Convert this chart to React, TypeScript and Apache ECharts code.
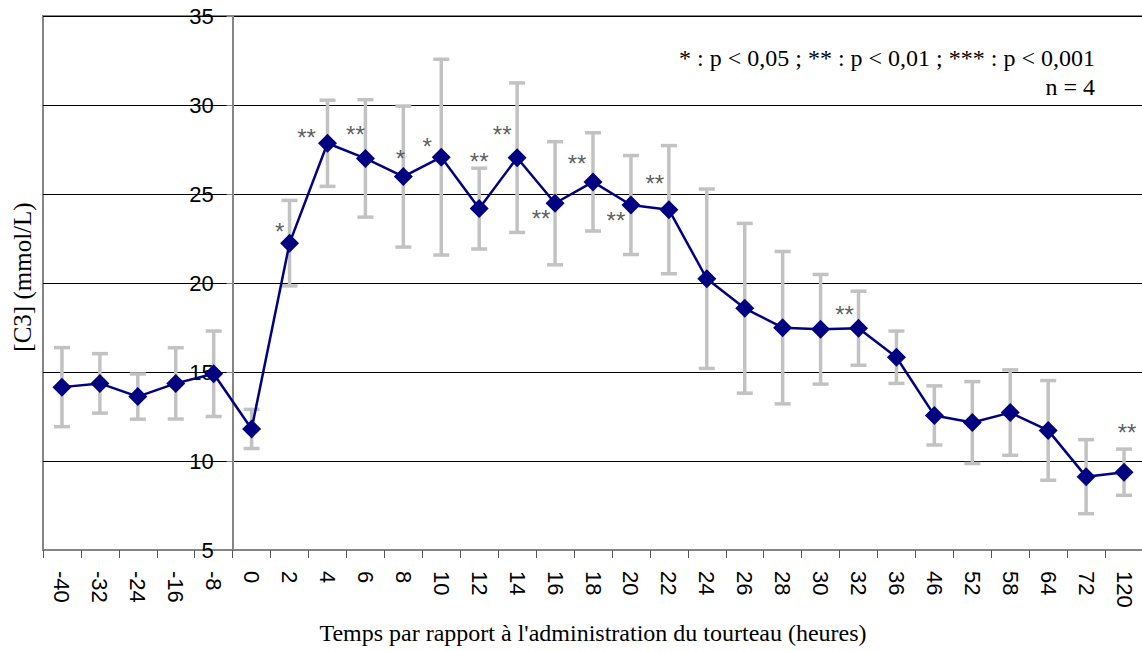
import React, { useEffect, useRef } from "react";
import * as echarts from "echarts";

// Time points (hours relative to administration)
const categories = [
  "-40", "-32", "-24", "-16", "-8", "0", "2", "4", "6", "8", "10", "12", "14", "16",
  "18", "20", "22", "24", "26", "28", "30", "32", "36", "46", "52", "58", "64", "72", "120",
];

// Mean [C3] concentration (mmol/L)
const means = [
  14.15, 14.36, 13.62, 14.36, 14.9, 11.8, 22.24, 27.85, 27.0, 25.98, 27.07, 24.18, 27.04,
  24.48, 25.68, 24.38, 24.12, 20.24, 18.58, 17.49, 17.4, 17.46, 15.83, 12.56, 12.16, 12.72,
  11.72, 9.12, 9.37,
];

// Standard deviation for each time point
const sds = [
  2.22, 1.67, 1.27, 2.0, 2.4, 1.1, 2.4, 2.42, 3.3, 3.96, 5.5, 2.27, 4.2, 3.46, 2.76, 2.78,
  3.6, 5.04, 4.77, 4.28, 3.08, 2.08, 1.47, 1.66, 2.3, 2.4, 2.8, 2.08, 1.3,
];

// Significance markers versus baseline
const significance = [
  "", "", "", "", "", "", "*", "**", "**", "*", "*", "**", "**", "**", "**", "**", "**",
  "", "", "", "", "**", "", "", "", "", "", "", "**",
];

const yTicks = { min: 5, max: 35, step: 5 };

const legendLines = ["* : p < 0,05 ; ** : p < 0,01 ; *** : p < 0,001", "n = 4"];
const yTitle = "[C3] (mmol/L)";
const xTitle = "Temps par rapport à l'administration du tourteau (heures)";

// Placement of each significance marker around its point (pixels)
const markerOffsets: Record<number, [number, number]> = {
  6: [-10, -19],
  7: [-21, -13],
  8: [-10, -31],
  9: [-3, -25],
  10: [-14, -18],
  11: [0, -54],
  12: [-15, -30],
  13: [-14, 8],
  14: [-16, -25],
  15: [-15, 8],
  16: [-14, -33],
  21: [-14, -21],
  28: [3, -47],
};

const SANS = "'Liberation Sans', Arial, sans-serif";
const SERIF = "'Liberation Serif', 'Times New Roman', serif";

const GRID = { left: 43, top: 16, width: 1100, height: 534 };
// Number of categories left of the vertical axis
const AXIS_SPLIT = 5;

export default function App() {
  const ref = useRef<HTMLDivElement>(null);

  useEffect(() => {
    document.body.style.margin = "0";
    if (!ref.current) return;
    const chart = echarts.init(ref.current, undefined, { renderer: "svg" });

    const yAxisOffset = -(AXIS_SPLIT / categories.length) * GRID.width;

    const errorData = means.map((m, i) => [i, m - sds[i], m + sds[i]]);

    const markerData = means
      .map((m, i) => {
        if (!significance[i]) return null;
        const off = markerOffsets[i] || [0, -20];
        return {
          value: [i, m],
          label: {
            show: true,
            position: "inside",
            formatter: significance[i],
            offset: [off[0], off[1] + 7],
          },
        };
      })
      .filter((d) => d !== null);

    chart.setOption({
      animation: false,
      textStyle: { fontFamily: SANS },
      grid: {
        left: GRID.left,
        top: GRID.top,
        width: GRID.width,
        height: GRID.height,
        outerBoundsMode: "none",
        containLabel: false,
        show: true,
        borderColor: "#858585",
        borderWidth: 2,
        backgroundColor: "transparent",
      },
      xAxis: {
        type: "category",
        data: categories,
        boundaryGap: true,
        axisLine: { show: true, onZero: false, lineStyle: { color: "#858585", width: 2 } },
        axisTick: { show: true, interval: 0, length: 8, lineStyle: { color: "#555", width: 1 } },
        axisLabel: {
          interval: 0,
          rotate: -90,
          margin: 21,
          fontSize: 22,
          color: "#000",
          fontFamily: SANS,
        },
        name: xTitle,
        nameLocation: "middle",
        nameGap: 71,
        nameTextStyle: { fontFamily: SERIF, fontSize: 24, color: "#000" },
        splitLine: { show: false },
      },
      yAxis: {
        type: "value",
        min: yTicks.min,
        max: yTicks.max,
        interval: yTicks.step,
        position: "left",
        offset: yAxisOffset,
        axisLine: { show: true, lineStyle: { color: "#858585", width: 2 } },
        axisTick: { show: true, length: 6, lineStyle: { color: "#858585", width: 1 } },
        axisLabel: { margin: 19, fontSize: 22, color: "#000", fontFamily: SANS },
        splitLine: { show: true, lineStyle: { color: "#000", width: 1 } },
      },
      graphic: [
        {
          type: "text",
          x: 1095,
          y: 58,
          style: {
            text: legendLines[0],
            font: `24px ${SERIF}`,
            fill: "#000",
            align: "right",
            verticalAlign: "middle",
          },
        },
        {
          type: "text",
          x: 1095,
          y: 87,
          style: {
            text: legendLines[1],
            font: `24px ${SERIF}`,
            fill: "#000",
            align: "right",
            verticalAlign: "middle",
          },
        },
        {
          type: "text",
          x: 22,
          y: 277,
          rotation: Math.PI / 2,
          style: {
            text: yTitle,
            font: `25px ${SERIF}`,
            fill: "#000",
            align: "center",
            verticalAlign: "middle",
          },
        },
      ],
      series: [
        {
          type: "custom",
          name: "sd",
          z: 1,
          encode: { x: 0, y: [1, 2] },
          data: errorData,
          renderItem: (params: any, api: any) => {
            const x = api.value(0);
            const lo = api.coord([x, api.value(1)]);
            const hi = api.coord([x, api.value(2)]);
            const hw = 8;
            const style = { stroke: "#c2c2c2", lineWidth: 3.5 };
            return {
              type: "group",
              children: [
                { type: "line", shape: { x1: hi[0], y1: hi[1], x2: lo[0], y2: lo[1] }, style },
                { type: "line", shape: { x1: hi[0] - hw, y1: hi[1], x2: hi[0] + hw, y2: hi[1] }, style },
                { type: "line", shape: { x1: lo[0] - hw, y1: lo[1], x2: lo[0] + hw, y2: lo[1] }, style },
              ],
            };
          },
        },
        {
          type: "line",
          name: "C3",
          z: 3,
          data: means,
          symbol: "diamond",
          symbolSize: [19, 19],
          lineStyle: { color: "#000080", width: 2.5 },
          itemStyle: { color: "#000080" },
        },
        {
          type: "scatter",
          name: "sig",
          z: 4,
          symbol: "circle",
          symbolSize: 1,
          itemStyle: { color: "rgba(0,0,0,0)" },
          data: markerData,
          label: {
            show: true,
            color: "#333",
            fontFamily: SANS,
            fontSize: 24,
          },
        },
      ],
    });

    return () => chart.dispose();
  }, []);

  return <div ref={ref} style={{ width: 1142, height: 651 }} />;
}
